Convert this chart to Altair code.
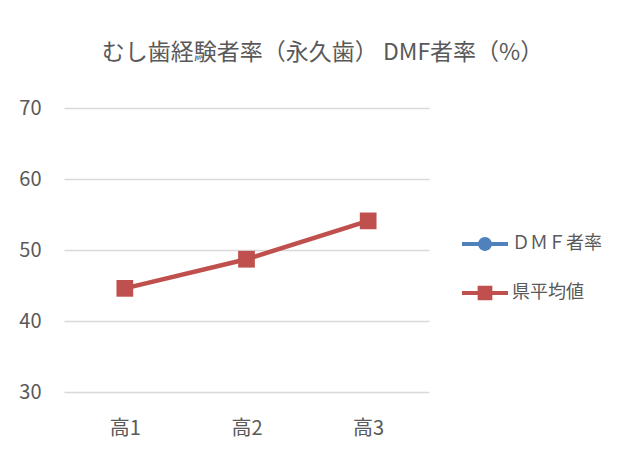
import altair as alt
import pandas as pd

categories = ["高1", "高2", "高3"]
series_names = ["ＤＭＦ者率", "県平均値"]
dmf_values = [None, None, None]  # not visible in the reference (hidden / no data)
ken_values = [44.6, 48.7, 54.1]

BLUE = "#4F81BD"
RED = "#C0504D"
TEXT = "#595959"
FONT = "Noto Sans CJK JP"

dmf_df = pd.DataFrame({"cat": categories, "series": series_names[0], "value": dmf_values})
ken_df = pd.DataFrame({"cat": categories, "series": series_names[1], "value": ken_values})

x_enc = alt.X("cat:N", scale=alt.Scale(type="point", padding=0.5, domain=categories),
              axis=alt.Axis(title=None, labelAngle=0, domain=False, ticks=False,
                            labelFontSize=20, labelColor=TEXT, labelFont=FONT, labelPadding=26))
y_enc = alt.Y("value:Q", scale=alt.Scale(domain=[30, 70], nice=False, zero=False),
              axis=alt.Axis(title=None, values=[30, 40, 50, 60, 70], domain=False, ticks=False,
                            gridColor="#D9D9D9", gridWidth=1.5, labelFontSize=20,
                            labelColor=TEXT, labelFont=FONT, labelPadding=23))

path_circle = "M-1,-0.09H1V0.09H-1Z M0.3,0A0.3,0.3 0 1,1 -0.3,0A0.3,0.3 0 1,1 0.3,0Z"
path_square = "M-1,-0.09H1V0.09H-1Z M-0.32,-0.32H0.32V0.32H-0.32Z"

legend_common = dict(title=None, orient="none", symbolSize=2116, symbolStrokeWidth=0,
                     labelFontSize=18, labelColor=TEXT, labelFont=FONT, labelOffset=4, padding=0)

dmf_layer = alt.Chart(dmf_df).mark_point(filled=True, opacity=1, size=200).encode(
    x=x_enc, y=y_enc,
    color=alt.Color("series:N", scale=alt.Scale(domain=[series_names[0]], range=[BLUE]),
                    legend=alt.Legend(symbolType=path_circle, legendX=398, legendY=113, **legend_common)),
)

ken_line = alt.Chart(ken_df).mark_line(strokeWidth=4.5, color=RED).encode(x=x_enc, y=y_enc)

ken_points = alt.Chart(ken_df).mark_point(filled=True, opacity=1, shape="square", size=280).encode(
    x=x_enc, y=y_enc,
    fill=alt.Fill("series:N", scale=alt.Scale(domain=[series_names[1]], range=[RED]),
                  legend=alt.Legend(symbolType=path_square, legendX=398, legendY=162, **legend_common)),
)

chart = alt.layer(dmf_layer, ken_line, ken_points).properties(
    width=365, height=284,
    padding={"left": 56, "top": 100, "right": 193, "bottom": 53},
    autosize=alt.AutoSizeParams(type="none"),
    title=alt.TitleParams("むし歯経験者率（永久歯） DMF者率（%）", fontSize=23, font=FONT,
                          fontWeight="normal", color=TEXT, anchor="middle", dx=76, offset=33),
).configure_view(stroke=None)

chart.save("out.html", embed_options={"renderer": "svg", "actions": False})
